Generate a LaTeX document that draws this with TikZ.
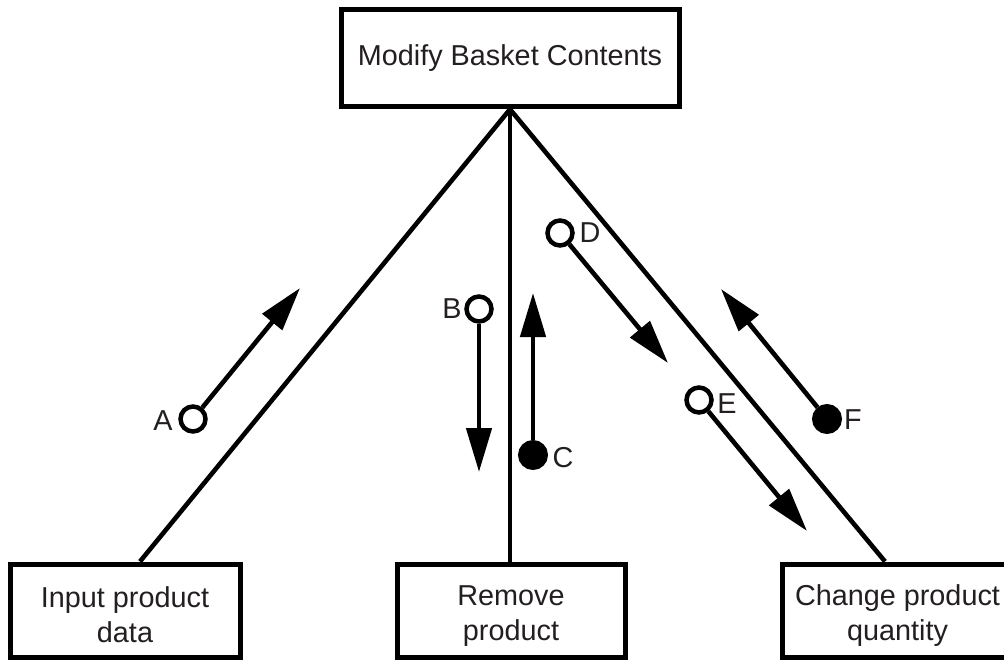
\documentclass[tikz,border=0pt]{standalone}
\usepackage{fontspec}
\setmainfont{Liberation Sans}
\usetikzlibrary{arrows.meta,calc}
\definecolor{txt}{RGB}{35,31,32}
\begin{document}
\begin{tikzpicture}[x=1pt,y=-1pt,
  box/.style={draw=black,line width=5pt,fill=white,inner sep=0pt,align=center,text=txt,font=\fontsize{28.8}{35}\selectfont},
  link/.style={draw=black,line width=4.6pt},
  flow/.style={draw=black,line width=4.6pt,-{Triangle[length=44pt,width=25pt]}},
  opencp/.style={circle,draw=black,line width=4.5pt,fill=white,minimum size=25pt,inner sep=0pt},
  fullcp/.style={circle,draw=black,line width=4pt,fill=black,minimum size=26pt,inner sep=0pt},
  lbl/.style={text=txt,inner sep=0pt,font=\fontsize{28.8}{35}\selectfont}]
\useasboundingbox (0,0) rectangle (1004,660);
% boxes
\node[box,minimum width=338pt,minimum height=97.5pt] (top) at (510,58) {Modify Basket Contents};
\node[box,minimum width=230pt,minimum height=93pt] (inp) at (125,610.5) {\rule{0pt}{30pt}Input product\\data};
\node[box,minimum width=228pt,minimum height=93pt] (rem) at (511,610.5) {\rule{0pt}{30pt}Remove\\product};
\node[box,minimum width=231pt,minimum height=93pt] (chg) at (897.5,610.5) {\rule{0pt}{30pt}Change product\\quantity};
% connectors
\draw[link] (top.south) -- ($(inp.north)+(15,0)$);
\draw[link] (top.south) -- ($(rem.north)+(-1,0)$);
\draw[link] (top.south) -- ($(chg.north)+(-12.5,0)$);
% couples
\node[opencp] (cA) at (193,419) {};
\coordinate (tA) at (300,288);
\node[lbl] (lA) at (163,421) {A};
\draw[flow] (cA) -- (tA);

\node[opencp] (cB) at (479,309) {};
\coordinate (tB) at (479,472);
\node[lbl] (lB) at (452,309) {B};
\draw[flow] (cB) -- (tB);

\node[fullcp] (cC) at (533,455) {};
\coordinate (tC) at (533,293);
\node[lbl] (lC) at (563,458) {C};
\draw[flow] (cC) -- (tC);

\node[opencp] (cD) at (560,233) {};
\coordinate (tD) at (668,363);
\node[lbl] (lD) at (590,233) {D};
\draw[flow] (cD) -- (tD);

\node[opencp] (cE) at (699,400) {};
\coordinate (tE) at (807,531);
\node[lbl] (lE) at (727,404) {E};
\draw[flow] (cE) -- (tE);

\node[fullcp] (cF) at (827,419) {};
\coordinate (tF) at (721,289);
\node[lbl] (lF) at (853,420) {F};
\draw[flow] (cF) -- (tF);
\end{tikzpicture}
\end{document}
